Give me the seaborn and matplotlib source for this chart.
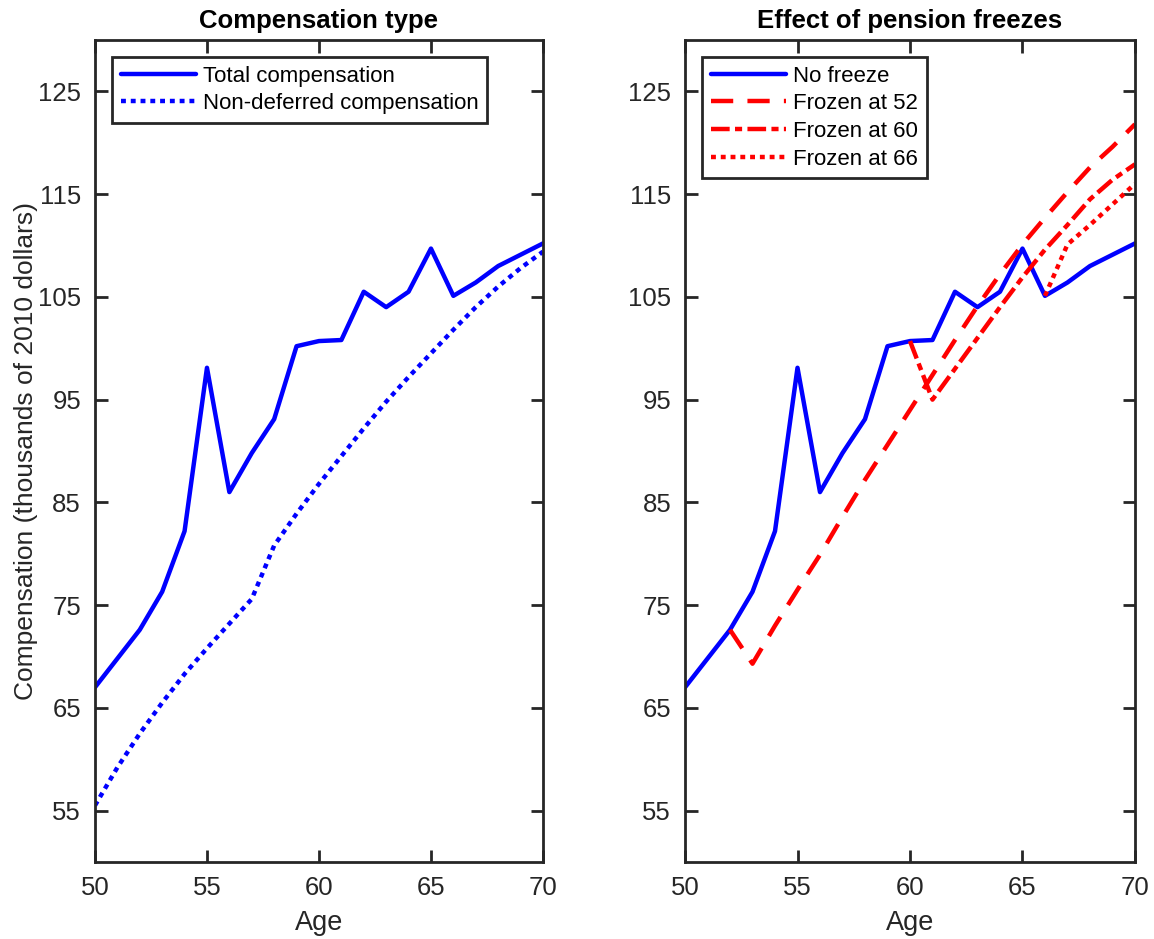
import numpy as np
import pandas as pd
import matplotlib
matplotlib.use("Agg")
import matplotlib.pyplot as plt
import seaborn as sns

# Data
ages = list(range(50, 71))
total_comp = [67.0, 69.8, 72.6, 76.3, 82.2, 98.1, 86.0, 89.8, 93.1, 100.2, 100.7,
              100.8, 105.5, 104.0, 105.5, 109.7, 105.1, 106.4, 108.0, 109.1, 110.2]
non_deferred = [55.5, 59.2, 62.5, 65.5, 68.3, 70.8, 73.2, 75.6, 80.8, 83.9, 86.8,
                89.5, 92.2, 94.8, 97.2, 99.5, 101.8, 104.0, 106.0, 107.8, 109.4]

ages_52 = list(range(52, 71))
frozen_52 = [72.6, 69.3, 73.0, 76.5, 79.9, 83.6, 87.2, 90.6, 94.0, 97.4, 100.8,
             104.1, 107.2, 110.1, 112.7, 115.2, 117.6, 119.6, 121.8]
ages_60 = list(range(60, 71))
frozen_60 = [100.7, 95.0, 98.0, 101.0, 104.0, 106.9, 109.6, 112.0, 114.5, 116.4, 117.9]
ages_66 = list(range(66, 71))
frozen_66 = [105.1, 110.1, 112.0, 114.0, 116.0]

sns.set_theme(style="ticks")
plt.rcParams['font.family'] = ['Liberation Sans', 'DejaVu Sans']

dark = '#262626'
fig = plt.figure(figsize=(11.54, 9.39), dpi=100)
ax1 = fig.add_axes([0.0823, 0.082, 0.3882, 0.8754])
ax2 = fig.add_axes([0.5936, 0.082, 0.3899, 0.8754])

lw = 3.2
dotted = (0, (1.1, 1.1))
sns.lineplot(x=ages, y=total_comp, ax=ax1, color='blue', lw=lw, label='Total compensation')
sns.lineplot(x=ages, y=non_deferred, ax=ax1, color='blue', lw=lw,
             linestyle=dotted, label='Non-deferred compensation')

sns.lineplot(x=ages, y=total_comp, ax=ax2, color='blue', lw=lw, label='No freeze')
sns.lineplot(x=ages_52, y=frozen_52, ax=ax2, color='red', lw=lw,
             linestyle=(0, (5, 3.2)), label='Frozen at 52')
sns.lineplot(x=ages_60, y=frozen_60, ax=ax2, color='red', lw=lw,
             linestyle=(0, (4.2, 1.2, 1.6, 1.2)), label='Frozen at 60')
sns.lineplot(x=ages_66, y=frozen_66, ax=ax2, color='red', lw=lw,
             linestyle=dotted, label='Frozen at 66')

for ax, title in [(ax1, 'Compensation type'), (ax2, 'Effect of pension freezes')]:
    ax.set_xlim(50, 70)
    ax.set_ylim(50, 130)
    ax.set_xticks([50, 55, 60, 65, 70])
    ax.set_yticks([55, 65, 75, 85, 95, 105, 115, 125])
    ax.tick_params(direction='in', top=True, right=True, length=9, width=2,
                   labelsize=18.5, colors=dark, pad=10)
    for sp in ax.spines.values():
        sp.set_visible(True)
        sp.set_linewidth(2)
        sp.set_color(dark)
    ax.set_title(title, fontsize=18.5, fontweight='bold', color='black', pad=9)
    ax.set_xlabel('Age', fontsize=19.5, color=dark, labelpad=7.5)
    ax.set_ylabel('')
    leg = ax.legend(loc='upper left', fontsize=16, frameon=True, fancybox=False,
                    edgecolor=dark, framealpha=1, handlelength=3.4, handletextpad=0.3,
                    borderpad=0.4, labelspacing=0.3, borderaxespad=0.75)
    leg.get_frame().set_linewidth(2)
    for t in leg.get_texts():
        t.set_color('black')

ax1.set_ylabel('Compensation (thousands of 2010 dollars)', fontsize=19, color=dark, labelpad=0)

fig.savefig('out.png', dpi=100)
